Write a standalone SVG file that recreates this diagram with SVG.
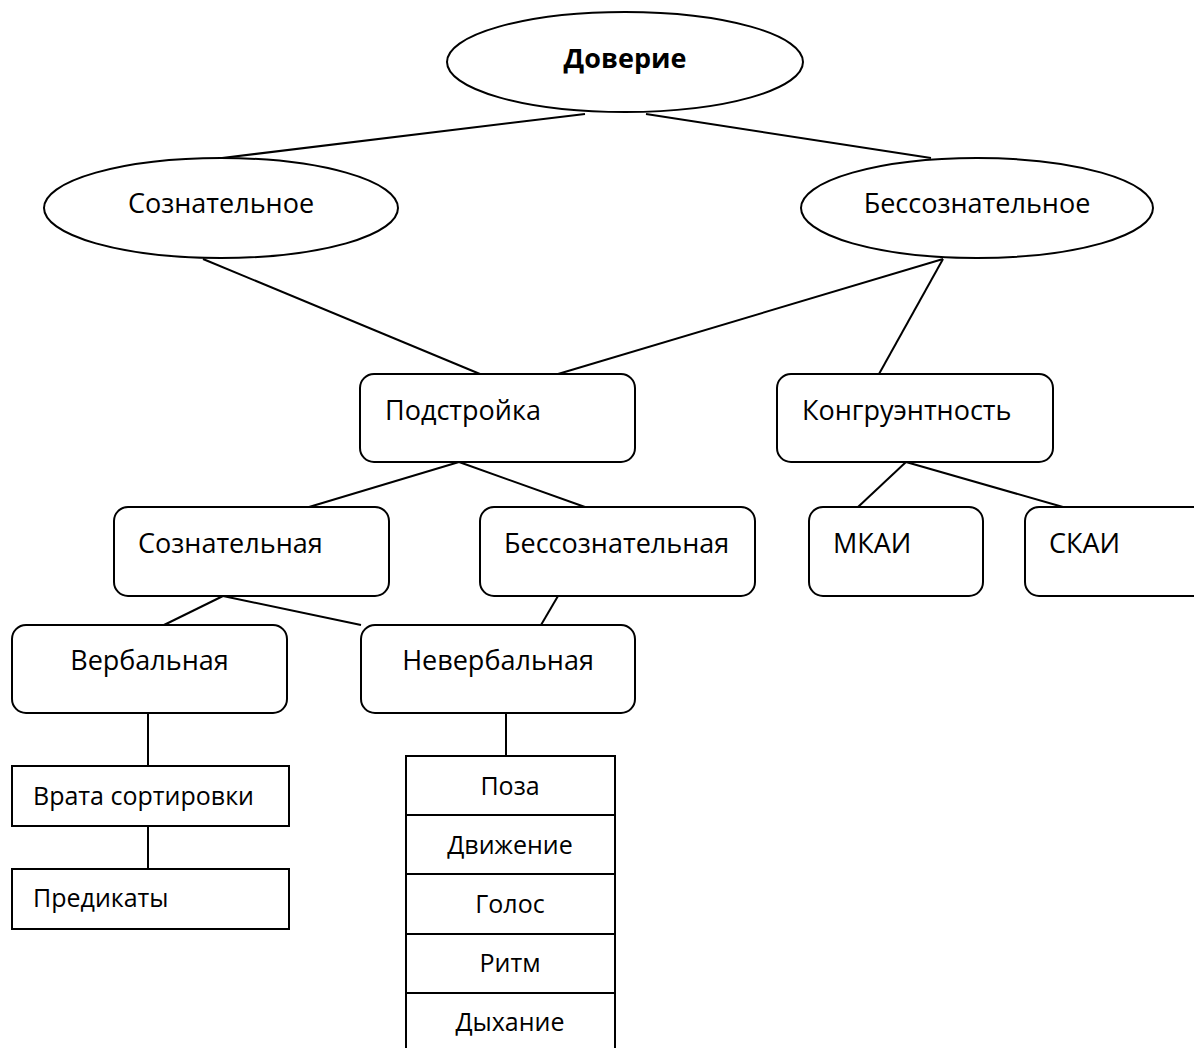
<svg xmlns="http://www.w3.org/2000/svg" width="1194" height="1048" viewBox="0 0 1194 1048">
<style>
.s{fill:#fff;stroke:#000;stroke-width:2}
.c line{stroke:#000;stroke-width:2}
text{font-family:"Open Sans","DejaVu Sans",sans-serif;font-size:27px;fill:#000}
.l{font-size:25px}
.b{font-weight:bold}
.m{text-anchor:middle}
</style>
<rect width="1194" height="1048" fill="#fff"/>
<g class="c" id="connectors">
<line x1="585" y1="114" x2="222" y2="158"/>
<line x1="646" y1="114" x2="931" y2="158"/>
<line x1="203" y1="259" x2="480" y2="374"/>
<line x1="943" y1="259" x2="558" y2="374"/>
<line x1="943" y1="259" x2="879" y2="374"/>
<line x1="459" y1="462" x2="309" y2="507"/>
<line x1="459" y1="462" x2="585" y2="507"/>
<line x1="906" y1="462" x2="858" y2="507"/>
<line x1="906" y1="462" x2="1063" y2="507"/>
<line x1="223" y1="596" x2="164" y2="625"/>
<line x1="223" y1="596" x2="361" y2="625"/>
<line x1="558" y1="596" x2="541" y2="625"/>
<line x1="148" y1="713" x2="148" y2="766"/>
<line x1="148" y1="826" x2="148" y2="869"/>
<line x1="506" y1="713" x2="506" y2="756"/>
</g>
<g id="doverie"><ellipse class="s" cx="625" cy="62" rx="178" ry="50"/><text class="b m" x="625" y="68">Доверие</text></g>
<g id="soznatelnoe"><ellipse class="s" cx="221" cy="208" rx="177" ry="50"/><text class="m" x="221" y="213">Сознательное</text></g>
<g id="bessoznatelnoe"><ellipse class="s" cx="977" cy="208" rx="176" ry="50"/><text class="m" x="977" y="213">Бессознательное</text></g>
<g id="podstroyka"><rect class="s" x="360" y="374" width="275" height="88" rx="14"/><text x="385" y="420">Подстройка</text></g>
<g id="kongruentnost"><rect class="s" x="777" y="374" width="276" height="88" rx="14"/><text x="802" y="420">Конгруэнтность</text></g>
<g id="soznatelnaya"><rect class="s" x="114" y="507" width="275" height="89" rx="14"/><text x="138" y="553">Сознательная</text></g>
<g id="bessoznatelnaya"><rect class="s" x="480" y="507" width="275" height="89" rx="14"/><text x="504" y="553">Бессознательная</text></g>
<g id="mkai"><rect class="s" x="809" y="507" width="174" height="89" rx="14"/><text x="833" y="553">МКАИ</text></g>
<g id="skai"><rect class="s" x="1025" y="507" width="190" height="89" rx="14"/><text x="1049" y="553">СКАИ</text></g>
<g id="verbalnaya"><rect class="s" x="12" y="625" width="275" height="88" rx="14"/><text class="m" x="149.5" y="670">Вербальная</text></g>
<g id="neverbalnaya"><rect class="s" x="361" y="625" width="274" height="88" rx="14"/><text class="m" x="498" y="670">Невербальная</text></g>
<g id="vrata"><rect class="s" x="12" y="766" width="277" height="60"/><text class="l" x="33" y="805">Врата сортировки</text></g>
<g id="predikaty"><rect class="s" x="12" y="869" width="277" height="60"/><text class="l" x="33" y="907">Предикаты</text></g>
<g id="neverbal-list">
<rect class="s" x="406" y="756" width="209" height="59"/>
<rect class="s" x="406" y="815" width="209" height="59"/>
<rect class="s" x="406" y="874" width="209" height="60"/>
<rect class="s" x="406" y="934" width="209" height="59"/>
<rect class="s" x="406" y="993" width="209" height="60"/>
<text class="l m" x="510" y="795">Поза</text>
<text class="l m" x="510" y="854">Движение</text>
<text class="l m" x="510" y="913">Голос</text>
<text class="l m" x="510" y="972">Ритм</text>
<text class="l m" x="510" y="1031">Дыхание</text>
</g>
</svg>
